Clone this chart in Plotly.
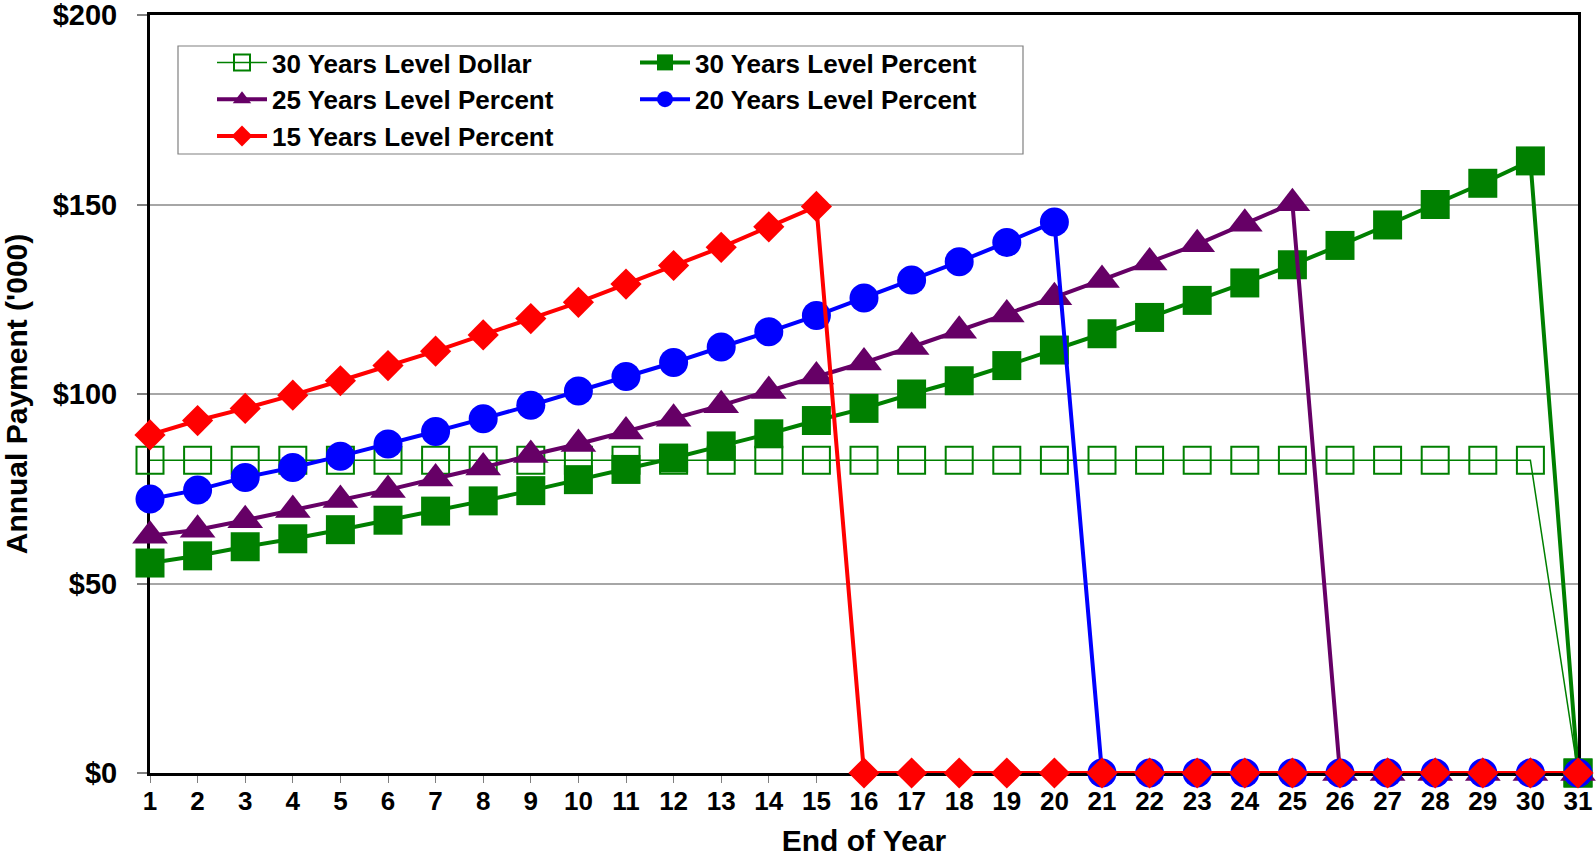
import plotly.graph_objects as go

years = list(range(1, 32))

level_dollar_30 = [82.5] * 30 + [0.0]

level_pct_30 = [55.4, 57.3, 59.7, 61.8, 64.2, 66.7, 69.1, 71.8, 74.5, 77.4,
                80.1, 83.1, 86.3, 89.5, 93.0, 96.2, 100.0, 103.5, 107.5, 111.6,
                115.9, 120.2, 124.7, 129.3, 134.1, 139.2, 144.6, 150.0, 155.6, 161.5,
                0.0]

level_pct_25 = [62.6, 64.2, 66.7, 69.4, 72.0, 74.7, 77.7, 80.6, 83.9, 86.8,
                90.1, 93.5, 97.0, 100.8, 104.6, 108.3, 112.4, 116.7, 121.0, 125.5,
                130.1, 134.7, 139.5, 144.9, 150.3] + [0.0] * 6

level_pct_20 = [72.3, 74.7, 78.0, 80.6, 83.6, 86.8, 90.1, 93.5, 97.0, 100.8,
                104.6, 108.3, 112.4, 116.4, 120.7, 125.3, 130.1, 134.9, 140.0, 145.4] + [0.0] * 11

level_pct_15 = [89.2, 93.0, 96.2, 99.7, 103.5, 107.5, 111.3, 115.6, 119.9, 124.2,
                129.0, 133.9, 138.7, 144.1, 149.5] + [0.0] * 16

y_ticks = [0, 50, 100, 150, 200]
y_ticktext = ["$0", "$50", "$100", "$150", "$200"]

FONT = "Liberation Sans, Arial, sans-serif"
GREEN = "#008000"
PURPLE = "#660066"
BLUE = "#0000FF"
RED = "#FF0000"

fig = go.Figure()

fig.add_trace(go.Scatter(
    x=years, y=level_dollar_30, name="30 Years Level Dollar", mode="lines+markers",
    line=dict(color=GREEN, width=1.5),
    marker=dict(symbol="square-open", size=27, color=GREEN, line=dict(width=2, color=GREEN)),
    cliponaxis=False, legend="legend"))
fig.add_trace(go.Scatter(
    x=years, y=level_pct_30, name="30 Years Level Percent", mode="lines+markers",
    line=dict(color=GREEN, width=4),
    marker=dict(symbol="square", size=29, color=GREEN),
    cliponaxis=False, legend="legend2"))
fig.add_trace(go.Scatter(
    x=years, y=level_pct_25, name="25 Years Level Percent", mode="lines+markers",
    line=dict(color=PURPLE, width=4),
    marker=dict(symbol="triangle-up", size=31, color=PURPLE),
    cliponaxis=False, legend="legend"))
fig.add_trace(go.Scatter(
    x=years, y=level_pct_20, name="20 Years Level Percent", mode="lines+markers",
    line=dict(color=BLUE, width=4),
    marker=dict(symbol="circle", size=29, color=BLUE),
    cliponaxis=False, legend="legend2"))
fig.add_trace(go.Scatter(
    x=years, y=level_pct_15, name="15 Years Level Percent", mode="lines+markers",
    line=dict(color=RED, width=4),
    marker=dict(symbol="diamond", size=24, color=RED),
    cliponaxis=False, legend="legend"))

L, R, T, B = 150, 18, 15, 84
W, H = 1596, 857
pw, ph = W - L - R, H - T - B


def px(x):
    return (x - L) / pw


def py(y):
    return (H - B - y) / ph


legend_font = dict(family=FONT, size=26, color="black", weight="bold")

fig.update_layout(
    width=W, height=H,
    margin=dict(l=L, r=R, t=T, b=B, autoexpand=False),
    plot_bgcolor="white", paper_bgcolor="white",
    font=dict(family=FONT, color="black"),
    showlegend=True,
    legend=dict(x=px(212), y=py(39), xanchor="left", yanchor="top",
                bgcolor="rgba(0,0,0,0)", borderwidth=0, font=legend_font,
                tracegroupgap=0, itemwidth=50),
    legend2=dict(x=px(635), y=py(39), xanchor="left", yanchor="top",
                 bgcolor="rgba(0,0,0,0)", borderwidth=0, font=legend_font,
                 tracegroupgap=0, itemwidth=50),
    shapes=[dict(type="rect", xref="paper", yref="paper",
                 x0=px(178), x1=px(1023), y0=py(154), y1=py(46),
                 line=dict(color="#808080", width=1.2), fillcolor="rgba(0,0,0,0)",
                 layer="below")],
    xaxis=dict(
        range=[1, 31], tickmode="array", tickvals=years, ticktext=[str(v) for v in years],
        showgrid=False, zeroline=False, automargin=False, ticklabeloverflow="allow",
        showline=True, linecolor="black", linewidth=3, mirror=True,
        ticks="outside", ticklen=7, tickcolor="#808080", tickwidth=1,
        tickfont=dict(family=FONT, size=26, color="black", weight="bold"),
        ticklabelstandoff=-4,
        title=dict(text="End of Year", font=dict(family=FONT, size=30, color="black", weight="bold"),
                   standoff=18),
        layer="below traces",
    ),
    yaxis=dict(
        range=[0, 200], tickmode="array", tickvals=y_ticks, ticktext=y_ticktext,
        showgrid=True, gridcolor="#A6A6A6", gridwidth=1.5, zeroline=False, automargin=False,
        ticklabeloverflow="allow",
        showline=True, linecolor="black", linewidth=3, mirror=True,
        ticks="outside", ticklen=10, tickcolor="#808080", tickwidth=1.5,
        tickfont=dict(family=FONT, size=29, color="black", weight="bold"),
        ticklabelstandoff=14,
        title=dict(text="Annual Payment ('000)", font=dict(family=FONT, size=30, color="black", weight="bold"),
                   standoff=18),
        layer="below traces",
    ),
)

fig.write_html("out.html", config={"displayModeBar": False},
               post_script="document.body.style.margin='0';")
